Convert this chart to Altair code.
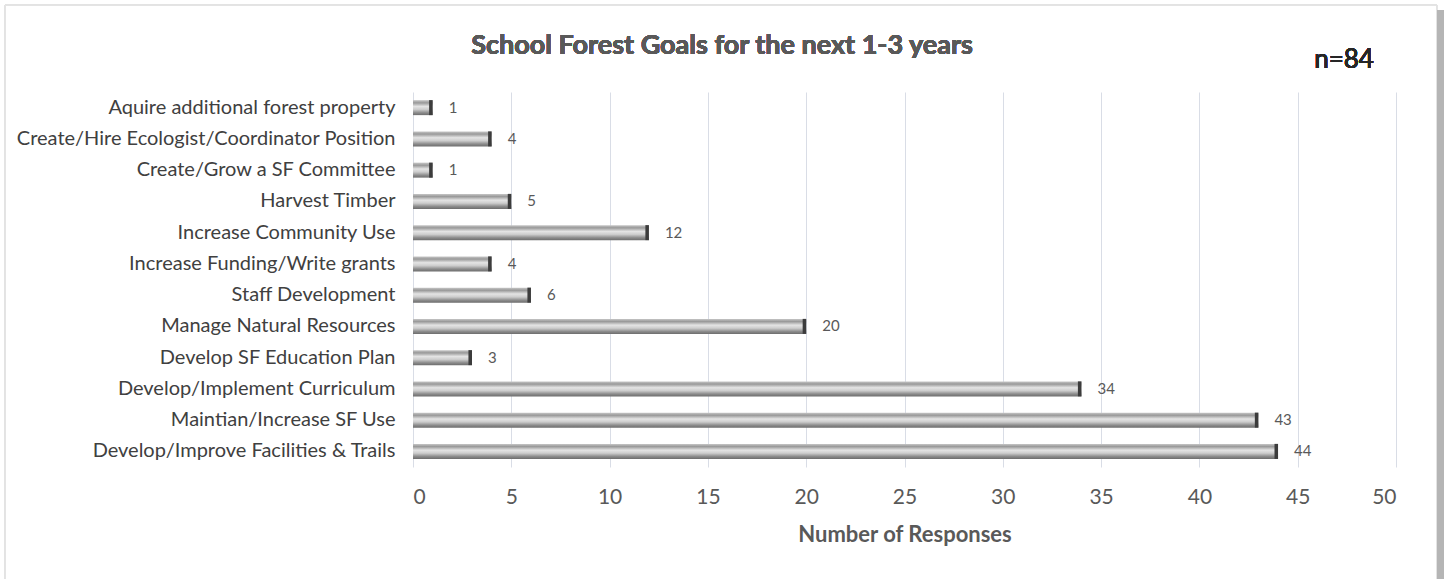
import altair as alt
import pandas as pd

# Survey answers: planned school forest goals for the next 1-3 years
goals = [
    "Aquire additional forest property",
    "Create/Hire Ecologist/Coordinator Position",
    "Create/Grow a SF Committee",
    "Harvest Timber",
    "Increase Community Use",
    "Increase Funding/Write grants",
    "Staff Development",
    "Manage Natural Resources",
    "Develop SF Education Plan",
    "Develop/Implement Curriculum",
    "Maintian/Increase SF Use",
    "Develop/Improve Facilities & Trails",
]
responses = [1, 4, 1, 5, 12, 4, 6, 20, 3, 34, 43, 44]
x_ticks = [0, 5, 10, 15, 20, 25, 30, 35, 40, 45, 50]

df = pd.DataFrame({"goal": goals, "count": responses})

FONT = "Lato"
W, H = 983, 375

x_scale = alt.Scale(domain=[0, 50], nice=False)
y_enc = alt.Y(
    "goal:N",
    sort=goals,
    title=None,
    scale=alt.Scale(paddingInner=0.52, paddingOuter=0.26),
    axis=alt.Axis(
        labelFont=FONT, labelFontSize=20, labelColor="#404040",
        labelPadding=18, ticks=False, domain=False, grid=False,
        labelLimit=420,
    ),
)
x_enc = alt.X(
    "count:Q",
    scale=x_scale,
    title="Number of Responses",
    axis=alt.Axis(
        values=x_ticks, labelFont=FONT, labelFontSize=21, labelColor="#595959",
        labelPadding=19, ticks=False, domain=False,
        grid=True, gridColor="#d9dde6", gridWidth=1,
        titleFont=FONT, titleFontSize=22, titleFontWeight="bold",
        titleColor="#595959", titlePadding=17,
    ),
)

# Bevelled grey bar body
bar_fill = alt.Gradient(
    gradient="linear", x1=0, x2=0, y1=0, y2=1,
    stops=[
        alt.GradientStop(offset=0.0, color="#c8c8c8"),
        alt.GradientStop(offset=0.18, color="#999999"),
        alt.GradientStop(offset=0.42, color="#e4e4e4"),
        alt.GradientStop(offset=0.62, color="#cdcdcd"),
        alt.GradientStop(offset=0.84, color="#8c8c8c"),
        alt.GradientStop(offset=1.0, color="#6e6e6e"),
    ],
)
bars = alt.Chart(df).mark_bar(color=bar_fill).encode(
    x=x_enc, x2=alt.X2(datum=0), y=y_enc
)

# Dark cap at the end of each bar
caps = alt.Chart(df).transform_calculate(
    start="datum.count - 0.18"
).mark_bar(color="#3c3c3c").encode(
    x=alt.X("start:Q", scale=x_scale),
    x2="count:Q",
    y=alt.Y("goal:N", sort=goals),
)

labels = alt.Chart(df).mark_text(
    align="left", baseline="middle", dx=16, font=FONT, fontSize=15,
    color="#595959",
).encode(
    x=alt.X("count:Q", scale=x_scale),
    y=alt.Y("goal:N", sort=goals),
    text="count:Q",
)

title = alt.Chart(df).mark_text(
    font=FONT, fontSize=27, fontWeight="bold", color="#595959",
    align="center", baseline="middle",
).encode(
    x=alt.value(309), y=alt.value(-46),
    text=alt.value("School Forest Goals for the next 1-3 years"),
)

n_label = alt.Chart(df).mark_text(
    font=FONT, fontSize=26, fontWeight="normal", color="#262626",
    align="center", baseline="middle",
).encode(
    x=alt.value(931), y=alt.value(-32), text=alt.value("n=84"),
)

# Chart frame with a soft right-hand shadow
frame = alt.Chart(df).mark_rect(
    fill=None, stroke="#e3e3e3", strokeWidth=1
).encode(
    x=alt.value(-408), x2=alt.value(1024), y=alt.value(-87), y2=alt.value(500),
)
shadow = alt.Chart(df).mark_rect(color="#b5b5b5").encode(
    x=alt.value(1024), x2=alt.value(1031), y=alt.value(-82), y2=alt.value(500),
)

chart = alt.layer(frame, shadow, bars, caps, labels, title, n_label).properties(
    width=W, height=H,
    autosize=alt.AutoSizeParams(type="none"),
    padding={"left": 413, "top": 92, "right": 49, "bottom": 112},
    background="white",
).configure_view(stroke=None)

chart.save("out.html", embed_options={"renderer": "svg", "actions": False})
